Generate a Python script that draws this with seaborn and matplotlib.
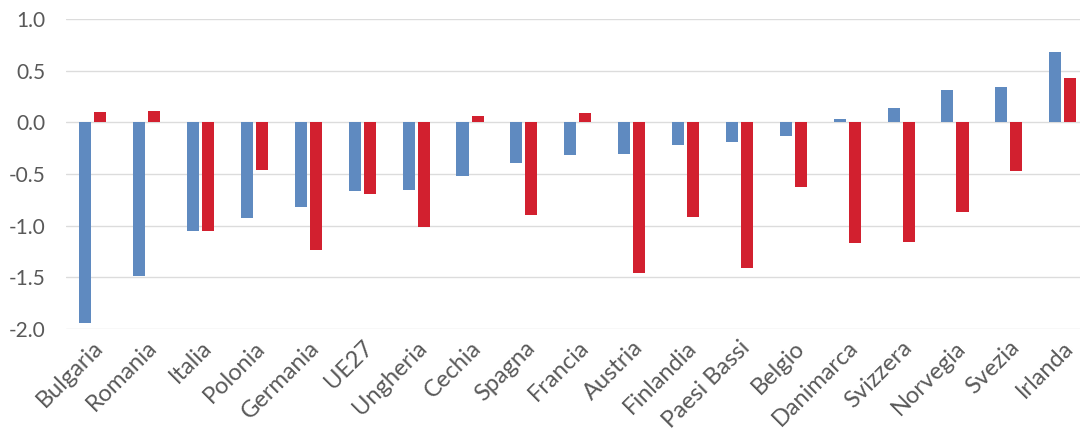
import seaborn as sns
import matplotlib.pyplot as plt
import pandas as pd

paesi = ["Bulgaria", "Romania", "Italia", "Polonia", "Germania", "UE27", "Ungheria",
         "Cechia", "Spagna", "Francia", "Austria", "Finlandia", "Paesi Bassi", "Belgio",
         "Danimarca", "Svizzera", "Norvegia", "Svezia", "Irlanda"]
serie_blu = [-1.94, -1.49, -1.05, -0.93, -0.82, -0.665, -0.66, -0.52, -0.39, -0.32,
             -0.31, -0.215, -0.185, -0.135, 0.03, 0.14, 0.315, 0.34, 0.685]
serie_rossa = [0.10, 0.115, -1.055, -0.465, -1.235, -0.69, -1.015, 0.065, -0.90, 0.09,
               -1.455, -0.92, -1.41, -0.63, -1.17, -1.16, -0.865, -0.47, 0.435]

df = pd.DataFrame({
    "paese": paesi * 2,
    "valore": serie_blu + serie_rossa,
    "serie": ["A"] * len(paesi) + ["B"] * len(paesi),
})

colori = ["#5f8ac0", "#d2202f"]
grigio = "#595959"

sns.set_style("white")
plt.rcParams["font.family"] = ["Lato", "DejaVu Sans"]

fig = plt.figure(figsize=(10.8, 4.38), dpi=100)
ax = fig.add_axes([0.061, 0.2495, 0.939, 0.7065])

sns.barplot(data=df, x="paese", y="valore", hue="serie", order=paesi,
            palette=colori, saturation=1, width=0.56, gap=0.2, legend=False, ax=ax,
            edgecolor="none")

ax.set_ylim(-2.0, 1.0)
ax.set_xlim(-0.5, 18.32)
ax.set_yticks([-2.0, -1.5, -1.0, -0.5, 0.0, 0.5, 1.0])
ax.set_yticklabels([f"{v:.1f}" for v in ax.get_yticks()])
ax.yaxis.grid(True, color="#dcdcdc", linewidth=1)
ax.set_axisbelow(True)
for s in ax.spines.values():
    s.set_visible(False)

ax.set_xlabel("")
ax.set_ylabel("")
ax.tick_params(axis="y", length=0, pad=15, labelsize=15, labelcolor=grigio)
ax.tick_params(axis="x", length=0, pad=6, labelsize=17, labelcolor=grigio)
plt.setp(ax.get_xticklabels(), rotation=45, ha="right", va="top", rotation_mode="anchor")

fig.savefig("out.png", dpi=100, facecolor="white")
